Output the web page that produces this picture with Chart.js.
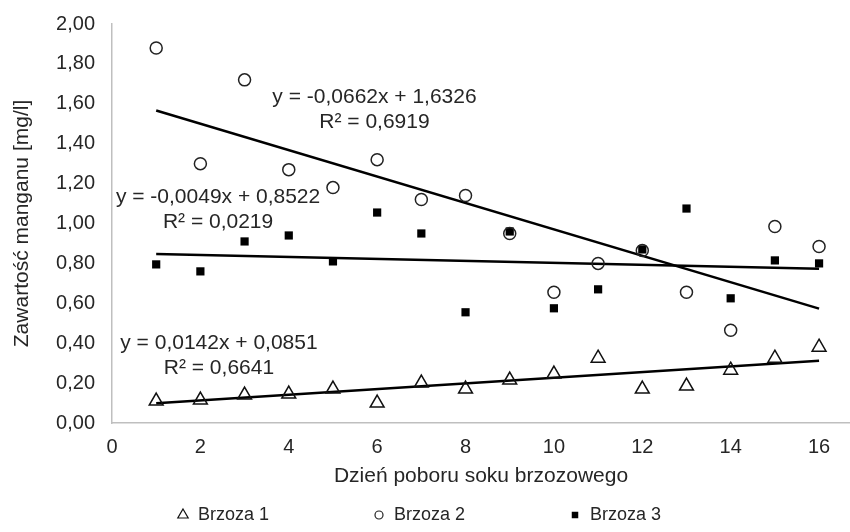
<!DOCTYPE html>
<html>
<head>
<meta charset="utf-8">
<script src="https://cdn.jsdelivr.net/npm/chart.js@4.4.0/dist/chart.umd.min.js"></script>
<style>
body { margin: 0; background: #fff; }
</style>
</head>
<body>
<canvas id="chart" width="850" height="532"></canvas>
<script>
// ----------------------------------------------------------------------
//	data
// ----------------------------------------------------------------------
const days = [1, 2, 3, 4, 5, 6, 7, 8, 9, 10, 11, 12, 13, 14, 15, 16]
const brzoza1 = [0.11, 0.115, 0.14, 0.145, 0.17, 0.10, 0.20, 0.17, 0.215, 0.245, 0.325, 0.17, 0.185, 0.265, 0.325, 0.38]
const brzoza2 = [1.88, 1.30, 1.72, 1.27, 1.18, 1.32, 1.12, 1.14, 0.95, 0.655, 0.80, 0.865, 0.655, 0.465, 0.985, 0.885]
const brzoza3 = [0.795, 0.76, 0.91, 0.94, 0.81, 1.055, 0.95, 0.555, 0.96, 0.575, 0.67, 0.87, 1.075, 0.625, 0.815, 0.80]
const series_names = ["Brzoza 1", "Brzoza 2", "Brzoza 3"]
const x_ticks = [0, 2, 4, 6, 8, 10, 12, 14, 16]
const trend_slope = [0.0142, -0.0662, -0.0049]
const trend_intercept = [0.0851, 1.6326, 0.8522]
const trend_eq = ["y = 0,0142x + 0,0851", "y = -0,0662x + 1,6326", "y = -0,0049x + 0,8522"]
const trend_r2 = ["R² = 0,6641", "R² = 0,6919", "R² = 0,0219"]

const TEXT = '#262626'
Chart.defaults.font.family = "'Liberation Sans', Arial, sans-serif"
Chart.defaults.color = TEXT

// ----------------------------------------------------------------------
function points (ys)
{
	return days.map ((d, i) => ({x: d, y: ys[i]}))
}

function trend (k)
{
	const a = days[0]
	const b = days[days.length - 1]
	return [{x: a, y: trend_slope[k] * a + trend_intercept[k]},
		{x: b, y: trend_slope[k] * b + trend_intercept[k]}]
}

const marker_styles = [
	{pointStyle: 'triangle', pointRadius: 8, pointBorderWidth: 1.5,
		pointBackgroundColor: 'rgba(0,0,0,0)', pointBorderColor: '#111'},
	{pointStyle: 'circle', pointRadius: 6, pointBorderWidth: 1.5,
		pointBackgroundColor: 'rgba(0,0,0,0)', pointBorderColor: '#222'},
	{pointStyle: 'rect', pointRadius: 5.8, pointBorderWidth: 0,
		pointBackgroundColor: '#000', pointBorderColor: '#000'}
	]

const datasets = []
const values = [brzoza1, brzoza2, brzoza3]
for (let k = 0; k < 3; k++)
	{
	datasets.push (Object.assign ({label: series_names[k], data: points (values[k]),
		showLine: false}, marker_styles[k]))
	}
for (let k = 0; k < 3; k++)
	{
	datasets.push ({label: 'trend' + k, data: trend (k), showLine: true,
		borderColor: '#000', borderWidth: 2.5, pointRadius: 0, fill: false})
	}

// equation labels, anchored in data units
const eq_pos = [{x: 2.42, y: 0.40, y2: 0.275}, {x: 5.94, y: 1.635, y2: 1.51}, {x: 2.40, y: 1.13, y2: 1.005}]

const eq_plugin = {
	id: 'eq_labels',
	afterDatasetsDraw (chart)
	{
		const ctx = chart.ctx
		const xs = chart.scales.x
		const ys = chart.scales.y
		ctx.save ()
		ctx.font = "21px 'Liberation Sans', Arial, sans-serif"
		ctx.fillStyle = TEXT
		ctx.textAlign = 'center'
		ctx.textBaseline = 'middle'
		for (let k = 0; k < 3; k++)
			{
			const p = eq_pos[k]
			ctx.fillText (trend_eq[k], xs.getPixelForValue (p.x), ys.getPixelForValue (p.y))
			ctx.fillText (trend_r2[k], xs.getPixelForValue (p.x), ys.getPixelForValue (p.y2))
			}
		ctx.restore ()
	}
}

const legend_plugin = {
	id: 'bottom_legend',
	afterDraw (chart)
	{
		const ctx = chart.ctx
		const y = 515
		const step = 196
		const x0 = chart.width / 2 - step - 46
		const sizes = [6, 4, 4.6]
		ctx.save ()
		ctx.font = "18px 'Liberation Sans', Arial, sans-serif"
		ctx.textBaseline = 'middle'
		ctx.textAlign = 'left'
		for (let k = 0; k < 3; k++)
			{
			const st = marker_styles[k]
			const x = x0 + step * k
			ctx.fillStyle = st.pointBackgroundColor
			ctx.strokeStyle = st.pointBorderColor
			ctx.lineWidth = 1.2
			Chart.helpers.drawPoint (ctx, {pointStyle: st.pointStyle, radius: sizes[k],
				borderWidth: st.pointBorderWidth ? 1.2 : 0, rotation: 0}, x, y)
			ctx.fillStyle = TEXT
			ctx.fillText (series_names[k], x + 15, y)
			}
		ctx.restore ()
	}
}

// ----------------------------------------------------------------------
const config = {
	type: 'scatter',
	data: {datasets: datasets},
	options: {
		responsive: false,
		animation: false,
		layout: {autoPadding: false, padding: {top: 24, right: 0, bottom: 39, left: 0}},
		plugins: {legend: {display: false}, tooltip: {enabled: false}},
		scales: {
			x: {
				type: 'linear', min: 0, max: 16.7,
				grid: {display: false, drawTicks: false},
				border: {display: true, color: '#bfbfbf', width: 1.5},
				ticks: {padding: 12, font: {size: 20}, maxRotation: 0, autoSkip: false},
				afterBuildTicks: (scale) => { scale.ticks = x_ticks.map (v => ({value: v})) },
				afterFit: (scale) => {
					scale.height = 70
					scale.paddingLeft = 0
					scale.paddingRight = 0
					},
				title: {display: true, text: 'Dzień poboru soku brzozowego',
					font: {size: 21}, padding: {top: 4, bottom: 4}}
			},
			y: {
				min: 0, max: 2,
				grid: {display: false, drawTicks: false},
				border: {display: true, color: '#bfbfbf', width: 1.5},
				ticks: {stepSize: 0.2, padding: 17, font: {size: 20},
					callback: (v) => v.toFixed (2).replace ('.', ',')},
				afterFit: (scale) => {
					scale.width = 112
					scale.paddingTop = 0
					scale.paddingBottom = 0
					},
				title: {display: true, text: 'Zawartość manganu [mg/l]',
					font: {size: 21}, padding: {top: 10, bottom: 0}}
			}
		}
	},
	plugins: [eq_plugin, legend_plugin]
}

const chart = new Chart (document.getElementById ('chart'), config)
</script>
</body>
</html>
